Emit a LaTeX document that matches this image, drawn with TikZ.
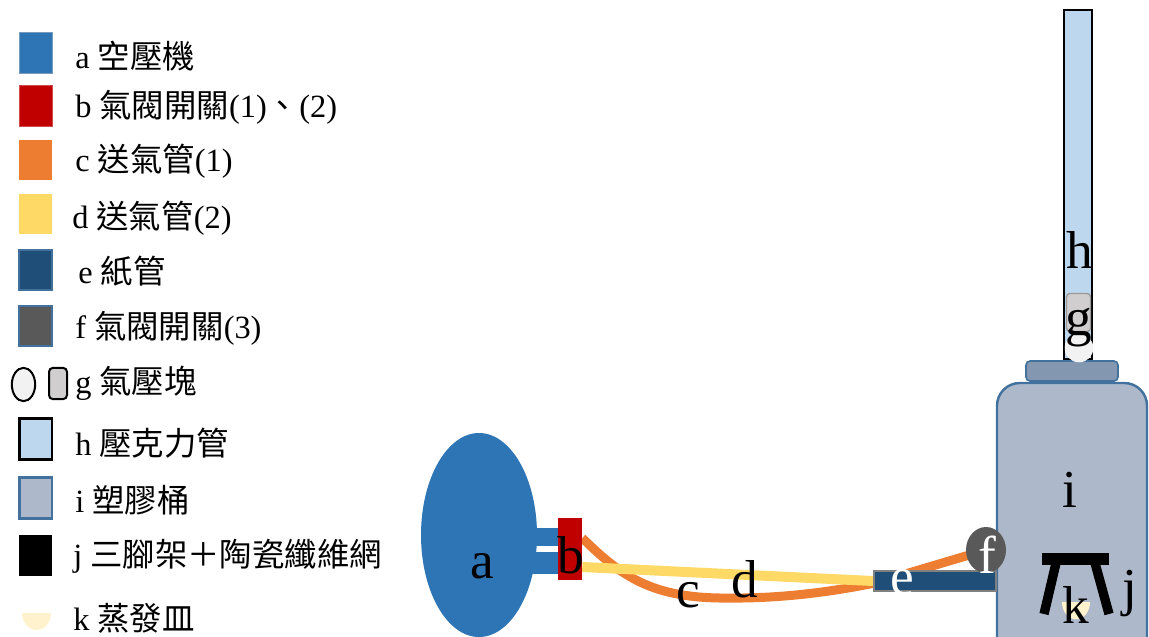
\documentclass[tikz,border=0pt]{standalone}
\usepackage{fontspec}
\setmainfont{Liberation Serif}
\newfontfamily\cjk{Noto Sans CJK TC}
\usetikzlibrary{positioning, shapes.geometric, backgrounds}

\definecolor{compblue}{HTML}{2E75B6}
\definecolor{valvered}{HTML}{C00000}
\definecolor{tubeorange}{HTML}{ED7D31}
\definecolor{tubeyellow}{HTML}{FFD966}
\definecolor{paperblue}{HTML}{1F4E79}
\definecolor{valvegray}{HTML}{595959}
\definecolor{edgeblue}{HTML}{41719C}
\definecolor{blockgray}{HTML}{D0CECE}
\definecolor{ballwhite}{HTML}{F2F2F2}
\definecolor{acrylic}{HTML}{BDD7EE}
\definecolor{bucketgray}{HTML}{ADB9CA}
\definecolor{lidblue}{HTML}{8497B0}
\definecolor{dishcream}{HTML}{FFF2CC}

\tikzset{
swatch/.style={rectangle, inner sep=0pt, minimum width=24.5pt, minimum height=30.5pt}, % legend squares
legtext/.style={anchor=west, inner sep=0pt, font=\fontsize{24.3}{28}\selectfont},
tag/.style={inner sep=0pt, font=\fontsize{40}{44}\selectfont}, % big letters on the apparatus
tube/.style={line width=#1, line cap=butt},
leg/.style={line width=7pt},
}

\begin{document}
\begin{tikzpicture}[x=0.75pt, y=-0.75pt]% one unit is one pixel
  \useasboundingbox (0,0) rectangle (1149,636);

  % legend
  \node[swatch, fill=compblue, draw=edgeblue!70] (la) at (35.5,53) {};
  \node[legtext] (lta) at (75,56.5) {a {\cjk 空壓機}};
  \node[swatch, fill=valvered, draw=valvered!70] (lb) at (35.5,105.5) {};
  \node[legtext] (ltb) at (75,107.5) {b {\cjk 氣閥開關}(1){\cjk 、}(2)};
  \node[swatch, fill=tubeorange] (lc) at (35.5,160) {};
  \node[legtext] (ltc) at (75,161.5) {c {\cjk 送氣管}(1)};
  \node[swatch, fill=tubeyellow] (ld) at (35.5,214) {};
  \node[legtext] (ltd) at (72,218.5) {d {\cjk 送氣管}(2)};
  \node[swatch, fill=paperblue, draw=edgeblue, line width=1.5pt] (le) at (35.5,270) {};
  \node[legtext] (lte) at (78,271) {e {\cjk 紙管}};
  \node[swatch, fill=valvegray, draw=edgeblue, line width=1.5pt] (lf) at (35.5,326) {};
  \node[legtext] (ltf) at (75,328) {f {\cjk 氣閥開關}(3)};
  \node[ellipse, draw, line width=1.5pt, fill=ballwhite, inner sep=0pt,
        minimum width=17.5pt, minimum height=25pt] (lgball) at (23.5,384.5) {};
  \node[rectangle, rounded corners=3pt, draw, line width=1.5pt, fill=blockgray, inner sep=0pt,
        minimum width=13.5pt, minimum height=23.5pt] (lgblock) at (58,383.5) {};
  \node[legtext] (ltg) at (75,383) {g {\cjk 氣壓塊}};
  \node[swatch, fill=acrylic, draw, line width=2pt] (lh) at (35.5,439) {};
  \node[legtext] (lth) at (75,443) {h {\cjk 壓克力管}};
  \node[swatch, fill=bucketgray, draw=edgeblue, line width=2pt] (li) at (35.5,498) {};
  \node[legtext] (lti) at (75,500) {i {\cjk 塑膠桶}};
  \node[swatch, fill=black] (lj) at (35.5,555.5) {};
  \node[legtext] (ltj) at (73,556.5) {j {\cjk 三腳架＋陶瓷纖維網}};
  \fill[dishcream] (22,613) arc[start angle=180, end angle=360, x radius=10.9pt, y radius=12.75pt];
  \node[legtext] (ltk) at (73,618) {k {\cjk 蒸發皿}};

  % compressor and valves
  \node[ellipse, fill=compblue, inner sep=0pt, minimum width=87pt, minimum height=153pt] (comp) at (479,535) {};
  \node[rectangle, fill=valvered, inner sep=0pt, minimum width=18pt, minimum height=46.5pt] (valve) at (570,549) {};

  % bucket, lid and acrylic tube
  \node[rectangle, rounded corners=17pt, draw=edgeblue, line width=1.8pt, fill=bucketgray,
        minimum width=112.5pt, minimum height=207.75pt] (bucket) at (1072,521.5) {};
  \node[rectangle, rounded corners=3pt, draw=edgeblue, line width=1.2pt, fill=lidblue,
        minimum width=69pt, minimum height=15pt, above=0pt of bucket] (lid) {};
  \node[rectangle, draw, line width=1.5pt, fill=acrylic, inner sep=0pt,
        minimum width=21pt, minimum height=262pt, above=0pt of lid, xshift=4.5pt] (tube) {};
  \node[rectangle, rounded corners=2.5pt, draw=gray!80, line width=1pt, fill=blockgray, inner sep=0pt,
        minimum width=18pt, minimum height=28.5pt] (block) at (1078.5,312.5) {};
  \node[circle, fill=ballwhite, draw=white, inner sep=0pt, minimum size=21pt] (ball) at (1079,348) {};

  % tripod with dish
  \node[rectangle, fill=black, inner sep=0pt, minimum width=50pt, minimum height=9pt] (stand) at (1075.5,559) {};
  \draw[leg] (1056,563) -- (1044,614);
  \draw[leg] (1095,563) -- (1109,614);
  \fill[dishcream] (1062,602) arc[start angle=180, end angle=360, x radius=10.5pt, y radius=13pt];

  % paper tube and third valve
  \node[rectangle, draw=gray, line width=1.5pt, fill=paperblue, inner sep=0pt,
        minimum width=91.5pt, minimum height=15pt] (paper) at (935,581) {};
  \node[ellipse, fill=valvegray, inner sep=0pt, minimum width=30pt, minimum height=34.5pt] (fv) at (986,550) {};

  % hoses go behind everything
  \begin{scope}[on background layer]
    \draw[compblue, tube=14pt] (comp.center |- 0,537) -- (valve.west |- 0,537);
    \draw[compblue, tube=16pt] (comp.center |- 0,563) -- (valve.west |- 0,563);
    \draw[tubeorange, tube=6.75pt] (valve.east |- 0,538)
      .. controls (620,575) and (650,597) .. (720,598)
      .. controls (780,599) and (830,592) .. (875,583) -- (fv.center);
    \draw[tubeyellow, tube=7.5pt] (valve.east |- 0,567) -- (paper.west);
  \end{scope}

  % letters
  \node[tag] (ta) at (482,566) {a};
  \node[tag] (tb) at (571,555) {b};
  \node[tag] (tc) at (688,595) {c};
  \node[tag] (td) at (745,579) {d};
  \node[tag, text=white] (te) at (902,582) {e};
  \node[tag, text=white] (tf) at (987,555) {f};
  \node[tag] (tg) at (1079,328) {g};
  \node[tag] (th) at (1080,250) {h};
  \node[tag] (ti) at (1070,490) {i};
  \node[tag] (tj) at (1130,594) {j};
  \node[tag] (tk) at (1076,605) {k};
\end{tikzpicture}
\end{document}
